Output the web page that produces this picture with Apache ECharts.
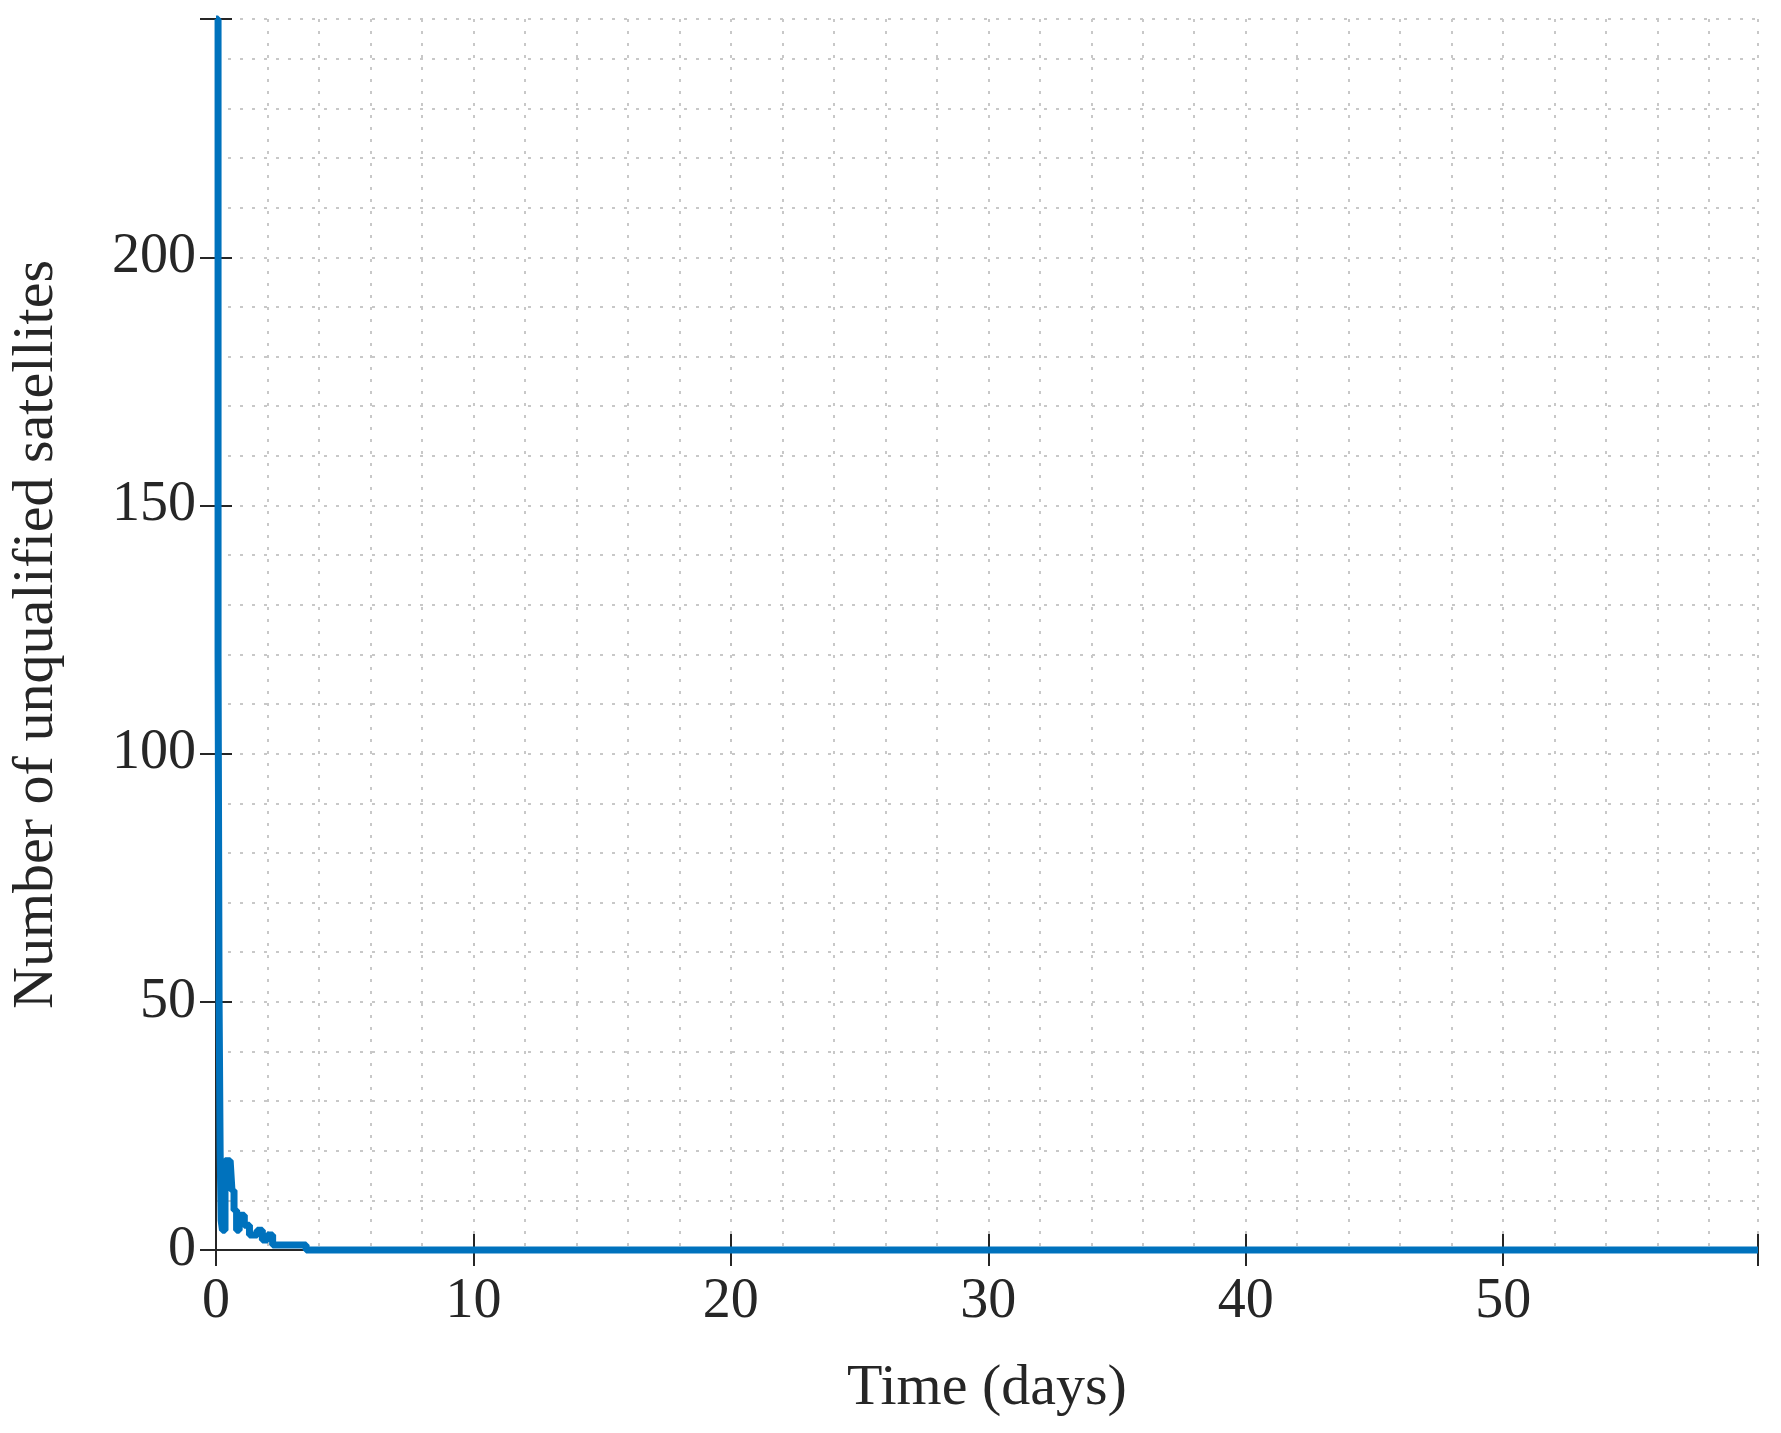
<!DOCTYPE html>
<html><head><meta charset="utf-8">
<script src="https://cdn.jsdelivr.net/npm/echarts@6/dist/echarts.min.js"></script>
<style>html,body{margin:0;background:#fff}#c{width:1781px;height:1433px}</style>
</head><body><div id="c"></div>
<script>
// time (days) and count of unqualified satellites
const timeDays = [0, 0.05, 0.08, 0.12, 0.16, 0.2, 0.25, 0.3, 0.35, 0.55, 0.62, 0.7, 0.8, 0.9, 1.1, 1.3, 1.6, 1.8, 2.0, 2.2, 3.3, 3.5, 59.9];
const unqualified = [248, 248, 120, 50, 20, 6, 4, 4, 18, 18, 12, 8, 4, 7, 5, 3, 4, 2, 3, 1, 1, 0, 0];

const font = 'Liberation Serif';
const minorGrid = { show: true, lineStyle: { color: '#c8c8c8', type: [3, 9], width: 2 } };
const hiddenMinor = { show: true, splitNumber: 5, length: 1, lineStyle: { color: 'rgba(0,0,0,0)', width: 0 } };
const boxLine = { show: true, lineStyle: { color: '#262626', width: 2 } };
const tick = { show: true, inside: true, length: 16, lineStyle: { width: 2, color: '#262626' } };

let el = document.getElementById('c');
let chart = echarts.init(el);

chart.setOption({
	backgroundColor: '#fff',
	animation: false,
	grid: { left: 202, right: 23, top: 19, bottom: 183 },
	xAxis: [{
		type: 'value', min: 0, max: 59.9, interval: 10,
		name: 'Time (days)', nameLocation: 'middle', nameGap: 110,
		nameTextStyle: { fontFamily: font, fontSize: 58, color: '#262626' },
		axisLine: boxLine, axisTick: tick,
		axisLabel: { fontFamily: font, fontSize: 56, color: '#262626', margin: 24, showMaxLabel: false },
		splitLine: minorGrid, minorTick: hiddenMinor, minorSplitLine: minorGrid
	}, {
		type: 'value', position: 'top', min: 0, max: 59.9, interval: 10,
		axisLine: boxLine, axisTick: tick,
		axisLabel: { show: false }, splitLine: { show: false }
	}],
	yAxis: [{
		type: 'value', min: 0, max: 248, interval: 50,
		name: 'Number of unqualified satellites', nameLocation: 'middle', nameGap: 150,
		nameTextStyle: { fontFamily: font, fontSize: 58, color: '#262626' },
		axisLine: boxLine, axisTick: tick,
		axisLabel: { fontFamily: font, fontSize: 56, color: '#262626', margin: 20, showMaxLabel: false },
		splitLine: minorGrid, minorTick: hiddenMinor, minorSplitLine: minorGrid
	}, {
		type: 'value', position: 'right', min: 0, max: 248, interval: 50,
		axisLine: boxLine, axisTick: tick,
		axisLabel: { show: false }, splitLine: { show: false }
	}],
	series: [{
		type: 'line', step: 'end', showSymbol: false,
		data: timeDays.map((t, i) => [t, unqualified[i]]),
		lineStyle: { color: '#0072BD', width: 7 },
		clip: false
	}]
});
</script></body></html>
